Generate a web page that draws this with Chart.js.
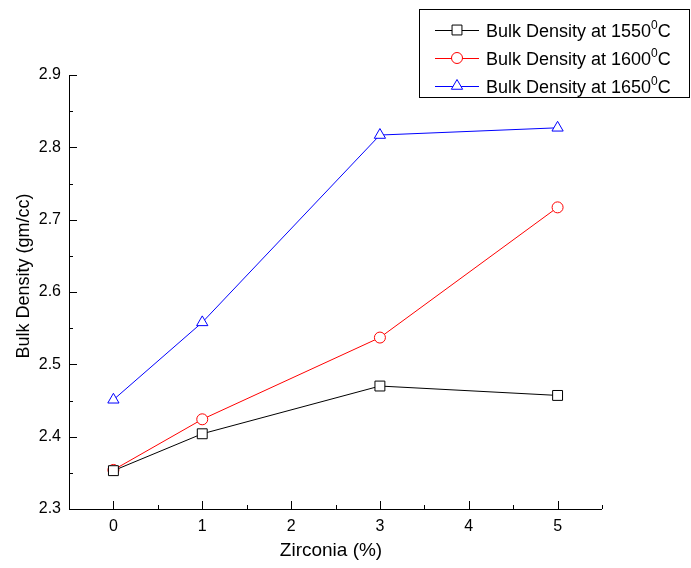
<!DOCTYPE html>
<html>
<head>
<meta charset="utf-8">
<script src="https://cdn.jsdelivr.net/npm/chart.js@4.4.1/dist/chart.umd.min.js"></script>
<style>
  html, body { margin: 0; padding: 0; background: #fff; }
  #wrap { width: 691px; height: 568px; position: relative; }
</style>
</head>
<body>
<div id="wrap"><canvas id="c" width="691" height="568"></canvas></div>
<script>
// Zirconia content (%) and measured bulk density (gm/cc) per sintering temperature
const zirconia = [0, 1, 3, 5];
const density1550 = [2.353, 2.404, 2.470, 2.457];
const density1600 = [2.354, 2.424, 2.537, 2.717];
const density1650 = [2.451, 2.558, 2.817, 2.827];
const seriesLabels = ['Bulk Density at 1550\u2070C', 'Bulk Density at 1600\u2070C', 'Bulk Density at 1650\u2070C'];
const xTicks = [0, 1, 2, 3, 4, 5];
const yTicks = [2.3, 2.4, 2.5, 2.6, 2.7, 2.8, 2.9];
const xTitle = 'Zirconia (%)';
const yTitle = 'Bulk Density (gm/cc)';

const FONT = '"Liberation Sans", Arial, Helvetica, sans-serif';

function pts(vals) { return zirconia.map((x, i) => ({ x: x, y: vals[i] })); }

// Axis lines with inward major/minor ticks, plus axis titles
const axesPlugin = {
  id: 'originAxes',
  afterDatasetsDraw(chart) {
    const ctx = chart.ctx, a = chart.chartArea;
    const xs = chart.scales.x, ys = chart.scales.y;
    ctx.save();
    ctx.strokeStyle = '#000';
    ctx.lineWidth = 1;
    ctx.beginPath();
    ctx.moveTo(a.left + 0.5, a.top);
    ctx.lineTo(a.left + 0.5, a.bottom + 0.5);
    ctx.lineTo(a.right, a.bottom + 0.5);
    for (let v = xs.min; v <= xs.max + 1e-9; v += 0.5) {
      const px = Math.round(xs.getPixelForValue(v)) + 0.5;
      const major = Math.abs(v - Math.round(v)) < 1e-9;
      ctx.moveTo(px, a.bottom);
      ctx.lineTo(px, a.bottom - (major ? 8 : 4));
    }
    for (let v = ys.min; v <= ys.max + 1e-9; v += 0.05) {
      const py = Math.round(ys.getPixelForValue(v)) + 0.5;
      const major = Math.abs(v * 10 - Math.round(v * 10)) < 1e-6;
      ctx.moveTo(a.left, py);
      ctx.lineTo(a.left + (major ? 8 : 4), py);
    }
    ctx.stroke();

    ctx.fillStyle = '#000';
    ctx.textAlign = 'center';
    ctx.textBaseline = 'middle';
    ctx.font = '19px ' + FONT;
    ctx.fillText(xTitle, 331, 551);
    ctx.save();
    ctx.translate(24, 276);
    ctx.rotate(-Math.PI / 2);
    ctx.font = '18px ' + FONT;
    ctx.fillText(yTitle, 0, 0);
    ctx.restore();
    ctx.restore();
  }
};

// Boxed legend with superscript degree zero
const legendPlugin = {
  id: 'boxLegend',
  afterDraw(chart) {
    const ctx = chart.ctx;
    const box = { x: 419.5, y: 9.5, w: 270, h: 88 };
    ctx.save();
    ctx.fillStyle = '#fff';
    ctx.fillRect(box.x, box.y, box.w, box.h);
    ctx.strokeStyle = '#000';
    ctx.lineWidth = 1;
    ctx.strokeRect(box.x, box.y, box.w, box.h);
    const rows = [30, 58, 86];
    chart.data.datasets.forEach((ds, i) => {
      const cy = rows[i];
      ctx.strokeStyle = ds.borderColor;
      ctx.lineWidth = 1;
      ctx.beginPath();
      ctx.moveTo(435, cy + 0.5);
      ctx.lineTo(479, cy + 0.5);
      ctx.stroke();
      ctx.fillStyle = '#fff';
      ctx.strokeStyle = ds.borderColor;
      Chart.helpers.drawPoint(ctx, {
        pointStyle: ds.pointStyle, radius: ds.pointRadius, borderWidth: 1, rotation: 0
      }, 457, cy);
      const parts = ds.label.split('\u2070');
      ctx.fillStyle = '#000';
      ctx.textBaseline = 'alphabetic';
      ctx.textAlign = 'left';
      ctx.font = '18px ' + FONT;
      let tx = 486;
      const base = cy + 6.5;
      ctx.fillText(parts[0], tx, base);
      tx += ctx.measureText(parts[0]).width;
      ctx.font = '12px ' + FONT;
      ctx.fillText('0', tx, base - 8);
      tx += ctx.measureText('0').width;
      ctx.font = '18px ' + FONT;
      ctx.fillText(parts[1], tx, base);
    });
    ctx.restore();
  }
};

const commonPoint = { pointBackgroundColor: '#fff', pointBorderWidth: 1, borderWidth: 1, fill: false, tension: 0 };

new Chart(document.getElementById('c'), {
  type: 'line',
  data: {
    datasets: [
      Object.assign({ label: seriesLabels[0], data: pts(density1550), borderColor: '#000', pointBorderColor: '#000', pointStyle: 'rect', pointRadius: 7, backgroundColor: '#fff' }, commonPoint),
      Object.assign({ label: seriesLabels[1], data: pts(density1600), borderColor: '#ff0000', pointBorderColor: '#ff0000', pointStyle: 'circle', pointRadius: 5.5, backgroundColor: '#fff' }, commonPoint),
      Object.assign({ label: seriesLabels[2], data: pts(density1650), borderColor: '#0000ff', pointBorderColor: '#0000ff', pointStyle: 'triangle', pointRadius: 6.5, backgroundColor: '#fff' }, commonPoint)
    ]
  },
  options: {
    responsive: false,
    animation: false,
    events: [],
    layout: { padding: { left: 0, right: 89, top: 75, bottom: 0 } },
    plugins: { legend: { display: false }, tooltip: { enabled: false } },
    scales: {
      x: {
        type: 'linear', min: -0.5, max: 5.5,
        afterBuildTicks: s => { s.ticks = xTicks.map(v => ({ value: v })); },
        afterFit: s => { s.height = 59; },
        grid: { display: false, drawTicks: false },
        border: { display: false },
        ticks: { color: '#000', font: { family: FONT, size: 16 }, padding: 8, callback: v => String(v), maxRotation: 0 },
        title: { display: false }
      },
      y: {
        type: 'linear', min: 2.3, max: 2.9,
        afterBuildTicks: s => { s.ticks = yTicks.map(v => ({ value: v })); },
        afterFit: s => { s.width = 69; },
        grid: { display: false, drawTicks: false },
        border: { display: false },
        ticks: { color: '#000', font: { family: FONT, size: 16 }, padding: 8, callback: v => Number(v).toFixed(1) },
        title: { display: false }
      }
    }
  },
  plugins: [axesPlugin, legendPlugin]
});
</script>
</body>
</html>
